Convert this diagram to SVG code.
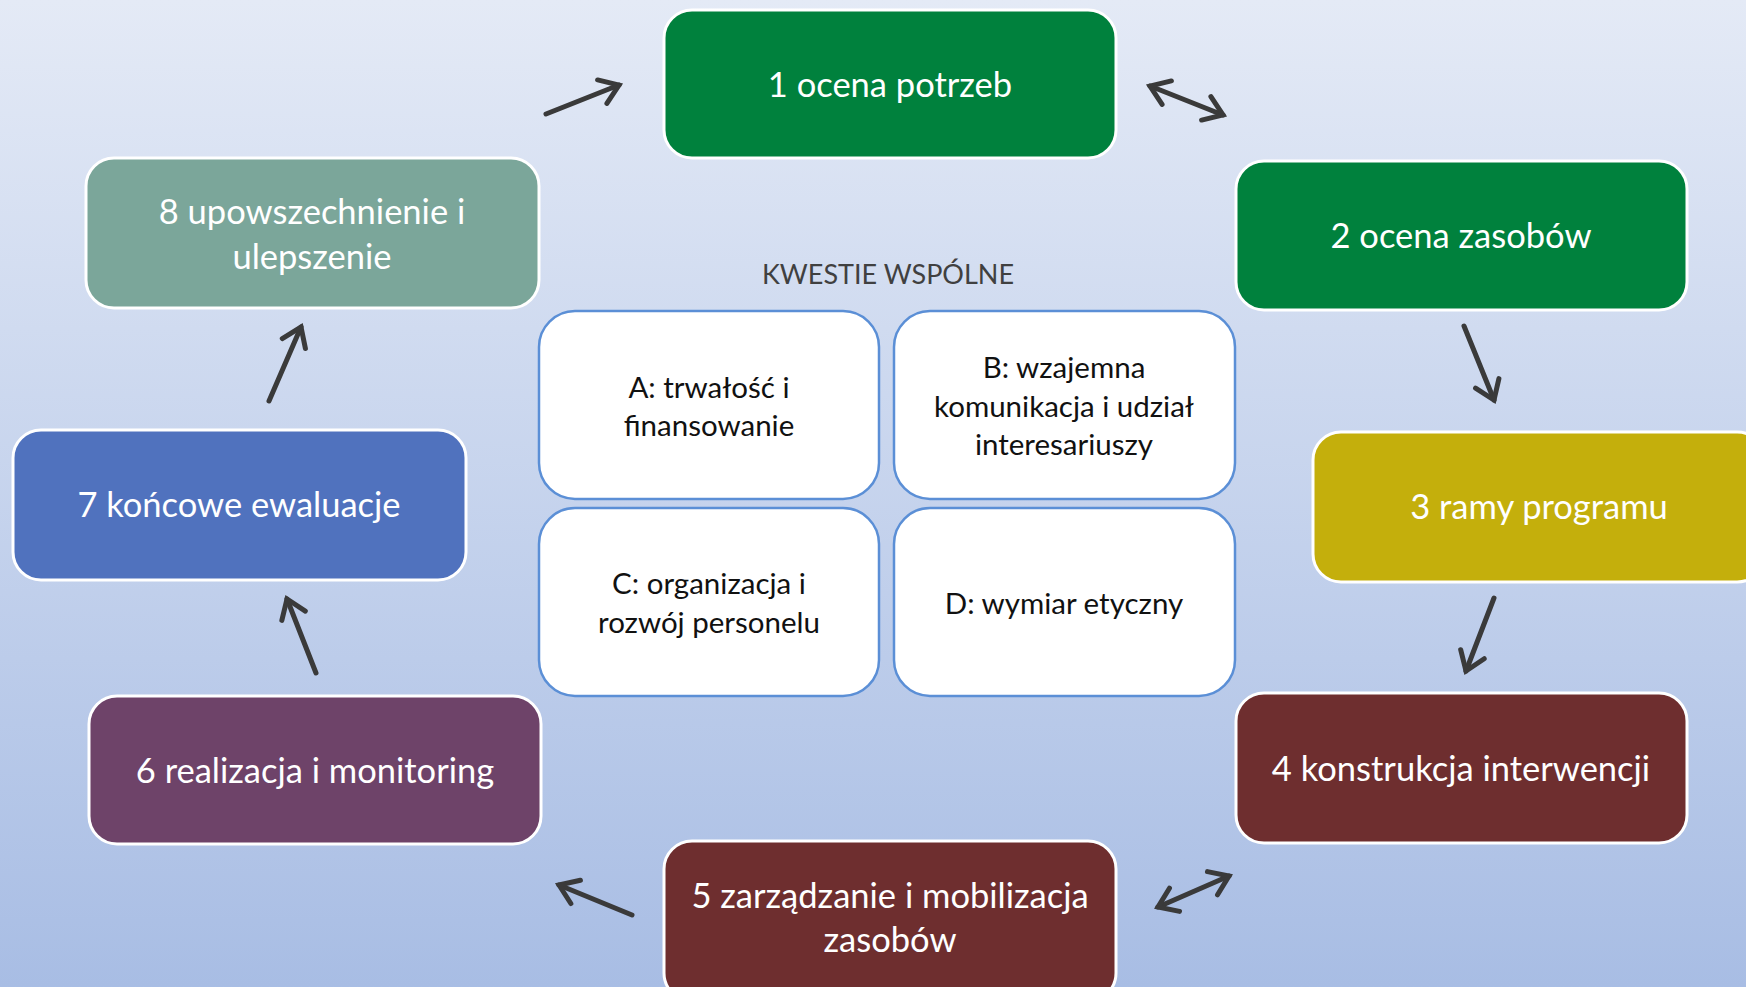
<svg xmlns="http://www.w3.org/2000/svg" width="1746" height="987" viewBox="0 0 1746 987">
<defs>
<linearGradient id="bg" x1="0" y1="0" x2="0" y2="1">
<stop offset="0" stop-color="#E4EAF6"/>
<stop offset="1" stop-color="#A8BDE4"/>
</linearGradient>
<marker id="ah" viewBox="-4 -16 26 32" markerWidth="26" markerHeight="32" refX="18" refY="0" markerUnits="userSpaceOnUse" orient="auto-start-reverse" overflow="visible">
<path d="M0,-12.6 L18,0 L0,12.6" fill="none" stroke="#3A3A3A" stroke-width="5" stroke-linecap="round"/>
</marker>
<style>
.box{stroke:#FFFFFF;stroke-width:3}
.w{fill:#FFFFFF;stroke:#5B8FD6;stroke-width:2.5}
.t{font-family:Lato,"Open Sans",sans-serif;font-size:34.5px;fill:#FFFFFF;text-anchor:middle}
.c{font-family:Lato,"Open Sans",sans-serif;font-size:29.5px;fill:#111111;text-anchor:middle}
.h{font-family:Lato,"Open Sans",sans-serif;font-size:27px;fill:#404040;text-anchor:middle}
.a{fill:none;stroke:#3A3A3A;stroke-width:5;stroke-linecap:round}
</style>
</defs>
<rect x="0" y="0" width="1746" height="987" fill="url(#bg)"/>
<g id="n1"><rect class="box" x="664" y="10" width="452" height="148" rx="28" fill="#00813D"/><text class="t" x="890" y="97">1 ocena potrzeb</text></g>
<g id="n2"><rect class="box" x="1236" y="161" width="451" height="149" rx="28" fill="#00813D"/><text class="t" x="1461" y="248">2 ocena zasobów</text></g>
<g id="n3"><rect class="box" x="1313" y="432" width="452" height="150" rx="28" fill="#C4AF0C"/><text class="t" x="1539" y="519">3 ramy programu</text></g>
<g id="n4"><rect class="box" x="1236" y="693" width="451" height="150" rx="28" fill="#6E2E2F"/><text class="t" x="1461" y="781">4 konstrukcja interwencji</text></g>
<g id="n5"><rect class="box" x="664" y="841" width="452" height="160" rx="28" fill="#6E2E2F"/><text class="t" x="890" y="908">5 zarządzanie i mobilizacja</text><text class="t" x="890" y="952">zasobów</text></g>
<g id="n6"><rect class="box" x="89" y="696" width="452" height="148" rx="28" fill="#6E4369"/><text class="t" x="315" y="783">6 realizacja i monitoring</text></g>
<g id="n7"><rect class="box" x="13" y="430" width="453" height="150" rx="28" fill="#5072BE"/><text class="t" x="239" y="517">7 końcowe ewaluacje</text></g>
<g id="n8"><rect class="box" x="86" y="158" width="453" height="150" rx="28" fill="#7BA69A"/><text class="t" x="312" y="224">8 upowszechnienie i</text><text class="t" x="312" y="269">ulepszenie</text></g>
<g id="title"><text class="h" x="888" y="284">KWESTIE WSPÓLNE</text></g>
<g id="A"><rect class="w" x="539" y="311" width="340" height="188" rx="36"/><text class="c" x="709" y="398">A: trwałość i</text><text class="c" x="709" y="436">finansowanie</text></g>
<g id="B"><rect class="w" x="894" y="311" width="341" height="188" rx="36"/><text class="c" x="1064" y="378">B: wzajemna</text><text class="c" x="1064" y="417">komunikacja i udział</text><text class="c" x="1064" y="455">interesariuszy</text></g>
<g id="C"><rect class="w" x="539" y="508" width="340" height="188" rx="36"/><text class="c" x="709" y="594">C: organizacja i</text><text class="c" x="709" y="633">rozwój personelu</text></g>
<g id="D"><rect class="w" x="894" y="508" width="341" height="188" rx="36"/><text class="c" x="1064" y="614">D: wymiar etyczny</text></g>
<g id="connectors">
<line class="a" x1="546" y1="114" x2="619" y2="85" marker-end="url(#ah)"/>
<line class="a" x1="1150" y1="86" x2="1223" y2="115" marker-start="url(#ah)" marker-end="url(#ah)"/>
<line class="a" x1="1464" y1="326" x2="1494" y2="400" marker-end="url(#ah)"/>
<line class="a" x1="1494" y1="598" x2="1466" y2="671" marker-end="url(#ah)"/>
<line class="a" x1="1158" y1="907" x2="1229" y2="876" marker-start="url(#ah)" marker-end="url(#ah)"/>
<line class="a" x1="632" y1="915" x2="559" y2="885" marker-end="url(#ah)"/>
<line class="a" x1="316" y1="673" x2="287" y2="599" marker-end="url(#ah)"/>
<line class="a" x1="269" y1="401" x2="301" y2="327" marker-end="url(#ah)"/>
</g>
</svg>
